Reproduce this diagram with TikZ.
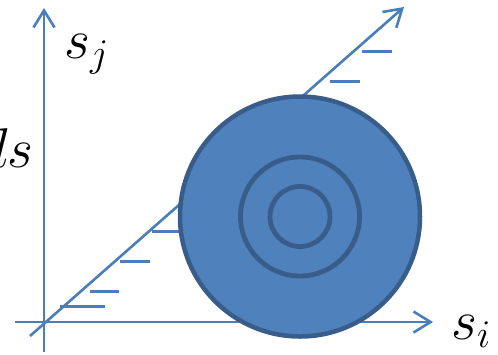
\RequirePackage{fix-cm}
\documentclass[tikz,border=0pt]{standalone}
\usetikzlibrary{arrows.meta}
\definecolor{axisblue}{HTML}{4A7EBB}
\definecolor{diskfill}{HTML}{4F81BD}
\definecolor{diskline}{HTML}{385D8A}
\begin{document}
\begin{tikzpicture}[x=1pt,y=-1pt,
  axis/.style={draw=axisblue,line width=2.6pt},
  arrowed/.style={axis,-{Straight Barb[length=17pt,width=21pt,line width=2.6pt]}},
  hatch/.style={draw=axisblue,line width=2.8pt},
  ring/.style={circle,draw=diskline,fill=diskfill,inner sep=0pt},
  lbl/.style={inner sep=0pt,font=\fontsize{56}{66}\selectfont}]
\useasboundingbox (0,0) rectangle (498,354);
\coordinate (vbot) at (44,352);
\coordinate (vtop) at (44,8);
\coordinate (hleft) at (15,322);
\coordinate (hright) at (433,322);
\coordinate (dbot) at (30,336);
\coordinate (dtop) at (404,7);
\draw[arrowed] (vbot) -- (vtop);
\draw[arrowed] (hleft) -- (hright);
\draw[arrowed] (dbot) -- (dtop);
\foreach \i/\a/\b/\y in {1/60/105/306.7,2/90/119/291.7,3/120/150/261.7,4/152/182/231.7,5/330/360/81.7,6/362/392/51.7}{
  \coordinate (h\i a) at (\a,\y);
  \coordinate (h\i b) at (\b,\y);
  \draw[hatch] (h\i a) -- (h\i b);
}
\node[ring,line width=4.5pt,minimum size=240pt] (disk) at (300,216.5) {};
\node[ring,line width=4.8pt,minimum size=119pt] (mid) at (disk.center) {};
\node[ring,line width=4.8pt,minimum size=60pt] (core) at (disk.center) {};
\node[lbl,anchor=base west] (sj) at (64,58) {$s_j$};
\node[lbl,anchor=base west] (si) at (451,339) {$s_i$};
\node[lbl,anchor=base east] (ds) at (34,167) {$ds$};
\end{tikzpicture}
\end{document}
